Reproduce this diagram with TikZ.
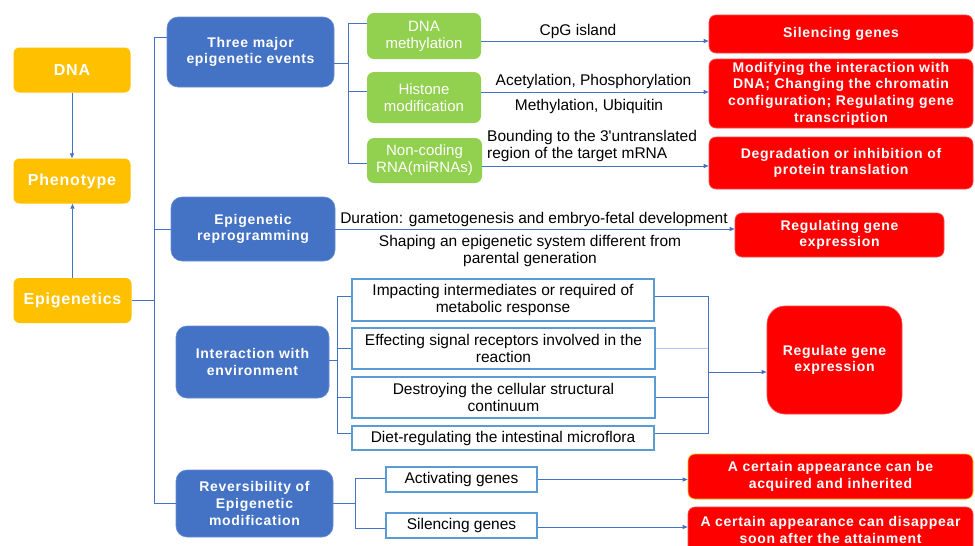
\documentclass[tikz,border=0pt]{standalone}
\usepackage{fontspec}
\setmainfont{Liberation Sans}
\newfontfamily\bsp{Liberation Sans}[LetterSpace=5]
\newfontfamily\rg{Liberation Sans}
\usetikzlibrary{arrows.meta}
\definecolor{yel}{HTML}{FFC000}
\definecolor{blu}{HTML}{4472C4}
\definecolor{grn}{HTML}{92D050}
\definecolor{rd}{HTML}{FF0000}
\definecolor{ln}{HTML}{4472C4}
\definecolor{lnl}{HTML}{B4C7EA}
\definecolor{wb}{HTML}{5B9BD5}
\begin{document}
\begin{tikzpicture}[x=1pt,y=-1pt,
 every node/.style={inner sep=0pt, align=center},
 ybox/.style={fill=yel, rounded corners=6pt, text=white, font=\bsp\bfseries\fontsize{16}{19}\selectfont},
 bbox/.style={fill=blu, draw=blu!80!white, line width=0.6pt, rounded corners=11pt, text=white, font=\bsp\bfseries\fontsize{14}{16.7}\selectfont},
 gbox/.style={fill=grn, rounded corners=7pt, text=white, font=\rg\fontsize{15}{17}\selectfont},
 rbox/.style={fill=rd, draw=rd!70!white, line width=0.6pt, rounded corners=7pt, text=white, font=\bsp\bfseries\fontsize{14}{16.7}\selectfont},
 wbox/.style={fill=white, draw=wb, line width=1.1pt, text=black, font=\rg\fontsize{15.5}{17}\selectfont},
 lbl/.style={text=black, font=\rg\fontsize{15.5}{17}\selectfont},
 conn/.style={draw=ln, line width=0.8pt},
 arr/.style={conn, -{Triangle[length=5pt,width=4pt]}},
]
\useasboundingbox (0,0) rectangle (975,546);
\clip (0,0) rectangle (975,546);
\fill[white] (0,0) rectangle (975,546);

% yellow
\node[ybox, minimum width=117pt, minimum height=45pt] (dna) at (72,70) {DNA};
\node[ybox, minimum width=117pt, minimum height=45pt] (pheno) at (72,181) {Phenotype};
\node[ybox, minimum width=118pt, minimum height=45pt] (epi) at (72.5,300.5) {Epigenetics};

% blue
\node[bbox, minimum width=167pt, minimum height=70pt] (three) at (250.5,52) {Three major\\epigenetic events};
\node[bbox, minimum width=164pt, minimum height=64pt] (repro) at (253,229) {Epigenetic\\reprogramming};
\node[bbox, minimum width=153pt, minimum height=72pt] (inter) at (252.5,362) {Interaction with\\environment};
\node[bbox, minimum width=157pt, minimum height=67pt] (rever) at (254.5,503.5) {Reversibility of\\Epigenetic\\modification};

% green
\node[gbox, minimum width=114pt, minimum height=46pt] (g1) at (424,36) {DNA\\methylation};
\node[gbox, minimum width=114pt, minimum height=51pt] (g2) at (424,97.5) {Histone\\modification};
\node[gbox, minimum width=115pt, minimum height=45pt] (g3) at (424.5,160.5) {Non-coding\\RNA(miRNAs)};

% red
\node[rbox, minimum width=264pt, minimum height=38pt] (r1) at (841,34) {Silencing genes};
\node[rbox, minimum width=264pt, minimum height=69pt] (r2) at (841,93.5) {Modifying the interaction with\\DNA; Changing the chromatin\\configuration; Regulating gene\\transcription};
\node[rbox, minimum width=264pt, minimum height=52pt] (r3) at (841,163) {Degradation or inhibition of\\protein translation};
\node[rbox, minimum width=209pt, minimum height=44pt] (r4) at (839.5,235) {Regulating gene\\expression};
\node[rbox, rounded corners=18pt, minimum width=135pt, minimum height=108pt] (r5) at (834.5,360) {Regulate gene\\expression};
\node[rbox, draw=yel, minimum width=285pt, minimum height=45pt] (r6) at (830.5,476.5) {A certain appearance can be\\acquired and inherited};
\node[rbox, minimum width=285pt, minimum height=46pt] (r7) at (830.5,530) {A certain appearance can disappear\\soon after the attainment};

% white
\node[wbox, minimum width=302pt, minimum height=42pt] (w1) at (503,300) {Impacting intermediates or required of\\metabolic response};
\node[wbox, minimum width=303pt, minimum height=41pt] (w2) at (503.5,348.5) {Effecting signal receptors involved in the\\reaction};
\node[wbox, minimum width=303pt, minimum height=41pt] (w3) at (503.5,397.5) {Destroying the cellular structural\\continuum};
\node[wbox, minimum width=302pt, minimum height=24pt] (w4) at (503,438) {Diet-regulating the intestinal microflora};
\node[wbox, minimum width=151pt, minimum height=25pt] (w5) at (461.5,479.5) {Activating genes};
\node[wbox, minimum width=151pt, minimum height=25pt] (w6) at (461.5,525.5) {Silencing genes};

% labels
\node[lbl] (lcpg) at (578,31) {CpG island};
\node[lbl] (lac) at (593.5,81) {Acetylation, Phosphorylation};
\node[lbl] (lme) at (589,106) {Methylation, Ubiquitin};
\node[lbl, align=left, anchor=west] (lbo) at (487,145.5) {Bounding to the 3'untranslated\\region of the target mRNA};
\node[lbl] (ldur) at (534,219.5) {Duration: gametogenesis and embryo-fetal development};
\node[lbl] (lsha) at (530,250.5) {Shaping an epigenetic system different from\\parental generation};

% left arrows
\draw[arr] (dna.south) -- (pheno.north);
\draw[arr] (epi.north) -- (epi.north |- pheno.south);

% main spine
\coordinate (sT) at (154,37);
\draw[conn] (sT) -- (sT |- rever.west) -- (rever.west);
\draw[conn] (sT) -- (three.west |- sT);
\draw[conn] (sT |- repro.west) -- (repro.west);
\draw[conn] (epi.east) -- (epi.east -| sT);

% three major subtree
\coordinate (tA) at (348,23);
\coordinate (tB) at (348,163);
\draw[conn] ([yshift=-11pt]three.east) -- ([yshift=-11pt]three.east -| tA);
\draw[conn] (tA) -- (tB);
\draw[conn] (tA) -- (g1.west |- tA);
\draw[conn] ([yshift=6.5pt]g2.west -| tA) -- ([yshift=6.5pt]g2.west);
\draw[conn] (tB) -- (g3.west |- tB);
\draw[arr] ([yshift=-5pt]g1.east) -- ([yshift=-5pt]g1.east -| r1.west);
\draw[arr] ([yshift=5.5pt]g2.east) -- ([yshift=5.5pt]g2.east -| r2.west);
\draw[arr] ([yshift=-5.5pt]g3.east) -- ([yshift=-5.5pt]g3.east -| r3.west);

% reprogramming
\draw[arr] (repro.east) -- (repro.east -| r4.west);

% interaction subtree
\coordinate (eA) at (337,296);
\coordinate (eB) at (337,433);
\draw[conn] ([yshift=2pt]inter.east) -- ([yshift=2pt]inter.east -| eA);
\draw[conn] (eA) -- (eB);
\draw[conn] (eA) -- (w1.west |- eA);
\draw[conn] (eA |- w2.west) -- (w2.west);
\draw[conn] (eA |- w3.west) -- (w3.west);
\draw[conn] (eB) -- (w4.west |- eB);
\coordinate (cA) at (708,296);
\coordinate (cB) at (708,433);
\coordinate (cM) at (708,372);
\draw[conn] (w1.east |- cA) -- (cA) -- (cB) -- (w4.east |- cB);
\draw[conn, draw=lnl] (w2.east) -- (w2.east -| cA);
\draw[conn] (w3.east) -- (w3.east -| cA);
\draw[arr] (cM) -- (r5.west |- cM);

% reversibility subtree
\coordinate (vA) at (355,478);
\coordinate (vB) at (355,528);
\draw[conn] (rever.east) -- (rever.east -| vA);
\draw[conn] (vA) -- (vB);
\draw[conn] (vA) -- (w5.west |- vA);
\draw[conn] (vB) -- (w6.west |- vB);
\draw[arr] (w5.east) -- (w5.east -| r6.west);
\draw[arr] ([yshift=-1.5pt]w6.east) -- ([yshift=-1.5pt]w6.east -| r7.west);
\end{tikzpicture}
\end{document}
